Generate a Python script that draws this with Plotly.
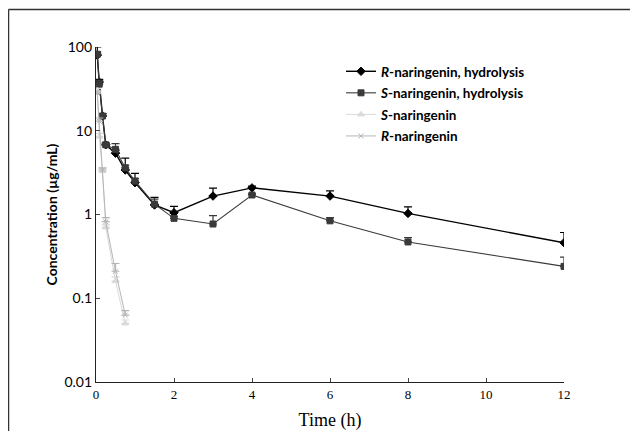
import plotly.graph_objects as go

# Data
t_hydro = [0.033, 0.083, 0.167, 0.25, 0.5, 0.75, 1, 1.5, 2, 3, 4, 6, 8, 12]
r_hydro = [80, 38, 15, 6.8, 5.4, 3.4, 2.4, 1.3, 1.05, 1.66, 2.08, 1.66, 1.03, 0.46]
r_hydro_err = [20, 3, 1, 0.3, 0.4, 1.3, 0.7, 0.3, 0.2, 0.4, 0.1, 0.25, 0.2, 0.15]
s_hydro = [82, 36, 15, 6.8, 6.0, 3.6, 2.5, 1.33, 0.9, 0.77, 1.71, 0.84, 0.47, 0.24]
s_hydro_err = [5, 4, 1, 0.3, 1.0, 0.3, 0.2, 0.2, 0.05, 0.2, 0.05, 0.08, 0.06, 0.07]

t_free = [0.033, 0.083, 0.167, 0.25, 0.5, 0.75]
s_free = [30, 8.5, 3.3, 0.7, 0.16, 0.05]
s_free_err = [2, 0.8, 0.2, 0.05, 0.02, 0.005]
r_free = [28, 13, 3.4, 0.82, 0.21, 0.063]
r_free_err = [2, 1.2, 0.2, 0.1, 0.05, 0.008]

x_ticks = [0, 2, 4, 6, 8, 10, 12]
y_ticks = [0.01, 0.1, 1, 10, 100]
y_tick_labels = ["0.01", "0.1", "1", "10", "100"]

fig = go.Figure()

def add(name, x, y, err, color, symbol, size, lw):
    fig.add_trace(go.Scatter(
        x=x, y=y, name=name, mode="lines+markers", legendgroup=name,
        line=dict(color=color, width=lw),
        marker=dict(symbol=symbol, size=size, color=color, line=dict(width=1, color=color)),
        error_y=dict(type="data", array=err, arrayminus=[0]*len(err), symmetric=False,
                     color=color, thickness=1.2, width=4),
    ))

add("<b><i>R</i>-naringenin, hydrolysis</b>", t_hydro, r_hydro, r_hydro_err, "#000000", "diamond", 6.5, 1.4)
add("<b><i>S</i>-naringenin, hydrolysis</b>", t_hydro, s_hydro, s_hydro_err, "#3a3a3a", "square", 6, 1.1)
add("<b><i>S</i>-naringenin</b>", t_free, s_free, s_free_err, "#dadada", "triangle-up", 6, 1.0)
add("<b><i>R</i>-naringenin</b>", t_free, r_free, r_free_err, "#b4b4b4", "x-thin-open", 5, 1.0)

# page has an 8px body margin, so figure is drawn 8px in from the window edge
W, H = 630, 423
L, T = 88, 39
pw, ph = 468, 335
R = W - L - pw
B = H - T - ph

def px(xp):
    return (xp - L) / pw

def py(yp):
    return (H - B - yp) / ph

fig.update_layout(
    width=W, height=H,
    margin=dict(l=L, r=R, t=T, b=B, autoexpand=False),
    paper_bgcolor="white", plot_bgcolor="white",
    showlegend=True,
    legend=dict(x=px(333), y=py(48), xanchor="left", yanchor="top",
                font=dict(family="Lato", size=13.5, color="#000"),
                bgcolor="rgba(0,0,0,0)", tracegroupgap=1, itemwidth=30),
    xaxis=dict(range=[0, 12], tickvals=x_ticks, ticks="inside", ticklen=4, automargin=False,
               showline=True, linecolor="#222", linewidth=1.2, showgrid=False, zeroline=False,
               tickfont=dict(family="Liberation Serif", size=13, color="#000"),
               title=dict(text="Time (h)", font=dict(family="Liberation Serif", size=18, color="#000"),
                          standoff=12)),
    yaxis=dict(type="log", range=[-2, 2], tickvals=y_ticks, ticktext=y_tick_labels,
               ticks="inside", ticklen=4, automargin=False,
               showline=True, linecolor="#222", linewidth=1.2, showgrid=False, zeroline=False,
               tickfont=dict(family="Lato", size=14, color="#000"),
               title=dict(text="<b>Concentration (µg/mL)</b>",
                          font=dict(family="Lato", size=14, color="#000"), standoff=3)),
    shapes=[
        dict(type="line", xref="paper", yref="paper", x0=px(0.5), x1=px(0.5), y0=py(1.5), y1=py(440),
             line=dict(color="#333", width=1.5)),
        dict(type="line", xref="paper", yref="paper", x0=px(0.5), x1=px(645), y0=py(1.5), y1=py(1.5),
             line=dict(color="#333", width=1.5)),
    ],
)

fig.write_html("out.html")
